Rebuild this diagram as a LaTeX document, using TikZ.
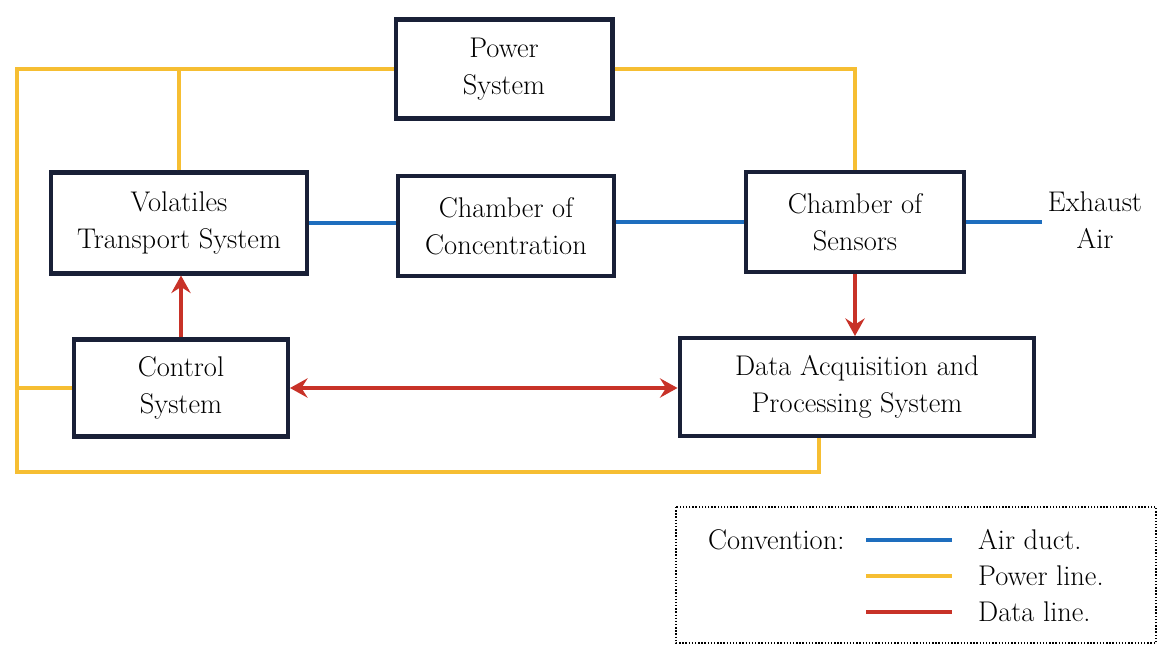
\documentclass[tikz,border=0pt]{standalone}
\usetikzlibrary{positioning, arrows.meta}
\definecolor{ductblue}{RGB}{30, 110, 190}
\definecolor{poweryellow}{RGB}{246, 190, 50}
\definecolor{datared}{RGB}{200, 50, 40}
\definecolor{boxnavy}{RGB}{25, 32, 55}

\tikzset{
  unit/.style={draw=boxnavy, line width=2.3pt, align=center, inner sep=0pt},
  duct/.style={ductblue, line width=1.8pt},
  powerline/.style={poweryellow, line width=1.8pt},
  dataline/.style={datared, line width=2.2pt,
    -{Stealth[length=10pt, width=11pt, inset=3.5pt]}},
}

\begin{document}
\begin{tikzpicture}[x=0.02cm, y=-0.02cm, every node/.style={font=\fontsize{16.2}{21}\selectfont}]
    \useasboundingbox (0,0) rectangle (1164,648);

    % blocks
    \node[unit, minimum width=4.34cm, minimum height=1.98cm] (pow) at (504, 69)  {Power\\System};
    \node[unit, minimum width=5.12cm, minimum height=2.02cm] (vts) at (179, 223) {Volatiles\\Transport System};
    \node[unit, minimum width=4.32cm, minimum height=2.0cm]  (coc) at (506, 226) {Chamber of\\Concentration};
    \node[unit, minimum width=4.36cm, minimum height=2.0cm]  (cos) at (855, 222) {Chamber of\\Sensors};
    \node[unit, minimum width=4.28cm, minimum height=1.94cm] (ctl) at (181, 388) {Control\\System};
    \node[unit, minimum width=7.1cm,  minimum height=1.96cm] (dap) at (857, 387) {Data Acquisition and\\Processing System};
    \node[align=center] (exh) at (1095, 220) {Exhaust\\Air};
    \coordinate (exhend) at (1042, 220);

    % power lines
    \draw[powerline] (pow.west) -| (17,472) -| (819,0 |- dap.south);
    \draw[powerline] (vts.north) -- (vts.north |- pow.west);
    \draw[powerline] (pow.east) -| (cos.north);
    \draw[powerline] (ctl.west) -- (17,0 |- ctl.west);

    % air ducts
    \draw[duct] (vts.east) -- (vts.east -| coc.west);
    \draw[duct] (cos.west -| coc.east) -- (cos.west);
    \draw[duct] (cos.east) -- (cos.east -| exhend);

    % data lines
    \draw[dataline] (ctl.north) -- (ctl.north |- vts.south);
    \draw[dataline] (cos.south) -- (cos.south |- dap.north);
    \draw[dataline, {Stealth[length=10pt, width=11pt, inset=3.5pt]}-{Stealth[length=10pt, width=11pt, inset=3.5pt]}] (ctl.east) -- (ctl.east -| dap.west);

    % convention
    \draw[densely dotted, line width=0.8pt] (676,507) rectangle (1156,643);
    \node[anchor=west] (conv) at (702, 540) {Convention:};
    \node[anchor=west] (lair) at (972, 540) {Air duct.};
    \node[anchor=west] (lpow) at (972, 576) {Power line.};
    \node[anchor=west] (ldat) at (972, 612) {Data line.};
    \draw[duct]      (866,540) -- (952,540);
    \draw[powerline] (866,576) -- (952,576);
    \draw[datared, line width=1.8pt] (866,612) -- (952,612);
  \end{tikzpicture}
\end{document}
